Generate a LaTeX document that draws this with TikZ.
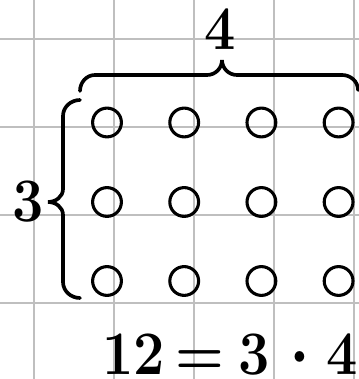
\documentclass[tikz,border=0pt]{standalone}
\usepackage{xcolor}
\usepackage{tikz}

\tikzset{
  gridline/.style={draw=black!25, line width=1.4pt},
  dot/.style={draw=black, line width=2.2pt},
  bracket/.style={draw=black, line width=2.6pt, line cap=round},
  numlabel/.style={inner sep=0pt, anchor=base, font=\fontsize{44}{44}\selectfont\bfseries}
}
\newcommand{\timesdot}{\raise7pt\hbox{\fontsize{26}{26}\selectfont\textbullet}}

\begin{document}
\begin{tikzpicture}[x=0.025cm, y=0.025cm]
    \useasboundingbox (0,0) rectangle (359,379);

    % Grid
    \foreach \gx in {34,114,194,274,354}
      \draw[gridline] (\gx,0) -- (\gx,379);
    \foreach \gy in {340,252,164,76}
      \draw[gridline] (0,\gy) -- (359,\gy);

    % Circles, 3 rows of 4
    \foreach \cy in {256.5,177,98}
      \foreach \cx in {107,184.2,261.4,338.6}
        \draw[dot] (\cx,\cy) circle (14.4);

    % Brace over the columns
    \draw[bracket] (80,288) to[out=90,in=180] (95,304) -- (207,304)
      to[out=0,in=-90] (222,319) to[out=-90,in=180] (237,304) -- (342,304)
      to[out=0,in=90] (358,289);

    % Brace beside the rows
    \draw[bracket] (80,279) to[out=180,in=90] (63,263) -- (63,190)
      to[out=-90,in=0] (48,177) to[out=0,in=90] (63,164) -- (63,97)
      to[out=-90,in=180] (80,81);

    % Labels
    \node[numlabel, xscale=0.9] (cols) at (220,329) {4};
    \node[numlabel, xscale=0.9] (rows) at (28,157) {3};
    \node[numlabel, xscale=0.9] (product) at (230,4)
      {12\kern0.2em=\kern0.25em3\kern0.28em\timesdot\kern0.22em4};
\end{tikzpicture}
\end{document}
